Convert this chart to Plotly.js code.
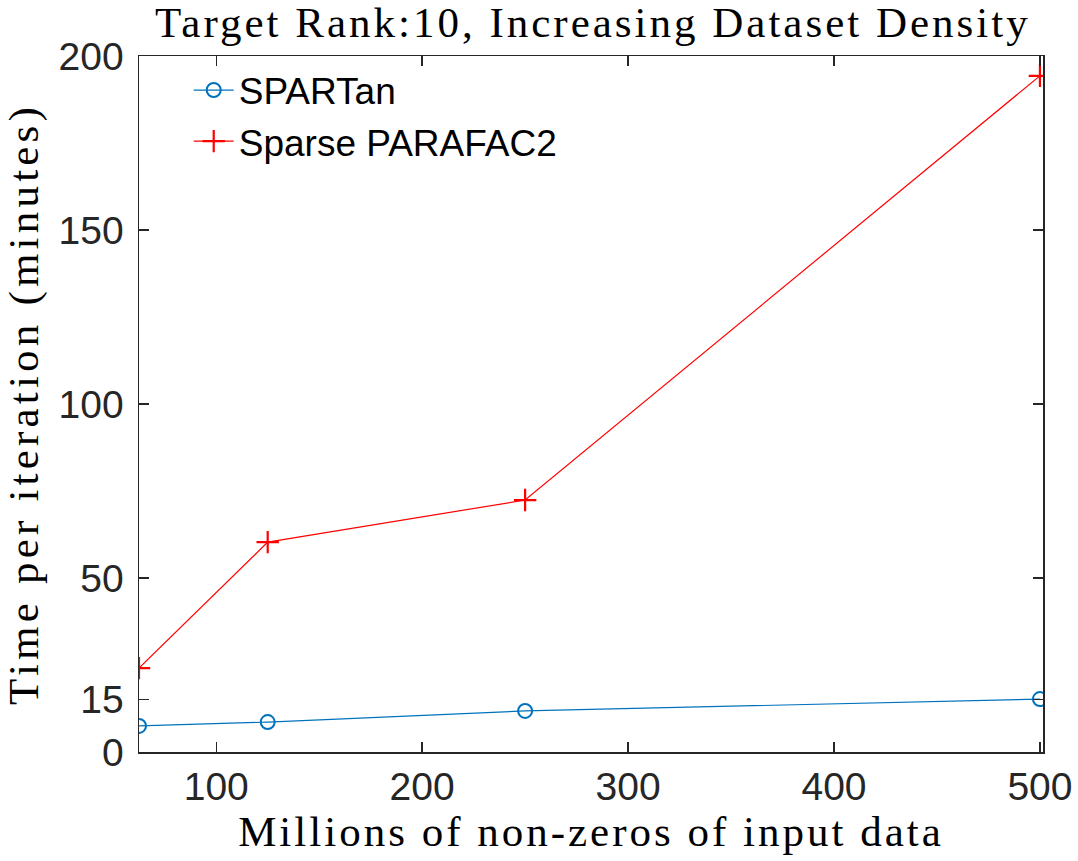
<!DOCTYPE html>
<html>
<head>
<meta charset="utf-8">
<script src="https://cdn.plot.ly/plotly-3.0.1.min.js"></script>
<style>
html,body{margin:0;padding:0;background:#fff;}
#chart{width:1078px;height:861px;}
#chart .gtitle, #chart .xtitle { letter-spacing: 3px; }
#chart .ytitle { letter-spacing: 4.2px; }
</style>
</head>
<body>
<div id="chart"></div>
<script>
const xValues = [62.5, 125, 250, 500];
const spartanTimes = [7.5, 8.6, 11.8, 15.2];
const sparseParafac2Times = [24.1, 60.3, 72.4, 194.3];
const seriesNames = ["SPARTan", "Sparse PARAFAC2"];
const xTickVals = [100, 200, 300, 400, 500];
const yTickVals = [0, 15, 50, 100, 150, 200];

const serif = "'Liberation Serif', 'DejaVu Serif', serif";
const sans = "'Liberation Sans', Arial, sans-serif";

const traces = [
  {
    x: xValues, y: spartanTimes, name: seriesNames[0], type: 'scatter', mode: 'lines+markers',
    line: {color: '#0072BD', width: 1.2},
    marker: {symbol: 'circle-open', size: 14, color: '#0072BD', line: {width: 2, color: '#0072BD'}}
  },
  {
    x: xValues, y: sparseParafac2Times, name: seriesNames[1], type: 'scatter', mode: 'lines+markers',
    line: {color: '#FF0000', width: 1.2},
    marker: {symbol: 'cross-thin-open', size: 16, color: '#FF0000', line: {width: 2.2, color: '#FF0000'}}
  }
];

const axisCommon = {
  showgrid: false, zeroline: false, showline: true, linecolor: '#262626', linewidth: 1.5,
  mirror: 'ticks', ticks: 'inside', ticklen: 10, tickwidth: 1.3, tickcolor: '#262626',
  tickfont: {family: sans, size: 39, color: '#262626'}
};

const layout = {
  width: 1078, height: 861,
  margin: {l: 139, r: 35, t: 56, b: 109},
  paper_bgcolor: '#fff', plot_bgcolor: '#fff',
  showlegend: true,
  title: {
    text: 'Target Rank:10, Increasing Dataset Density',
    font: {family: serif, size: 43, color: '#000'},
    x: 0.55, xanchor: 'center', xref: 'container',
    y: 0.992, yanchor: 'top', yref: 'container'
  },
  xaxis: Object.assign({}, axisCommon, {
    range: [62.5, 501.5], tickvals: xTickVals, ticktext: xTickVals.map(String),
    ticklabelstandoff: 0,
    title: {text: 'Millions of non-zeros of input data', font: {family: serif, size: 43, color: '#000'}, standoff: 8}
  }),
  yaxis: Object.assign({}, axisCommon, {
    range: [0, 200], tickvals: yTickVals, ticktext: yTickVals.map(String),
    ticklabelstandoff: 6,
    title: {text: '\u00a0\u00a0Time per iteration (minutes)', font: {family: serif, size: 43, color: '#000'}, standoff: 8}
  }),
  legend: {
    x: 0.055, y: 0.995, xanchor: 'left', yanchor: 'top',
    bgcolor: 'rgba(255,255,255,0)', borderwidth: 0,
    font: {family: sans, size: 37, color: '#000'},
    tracegroupgap: 0, itemwidth: 40
  }
};

Plotly.newPlot('chart', traces, layout, {displayModeBar: false, staticPlot: true});
</script>
</body>
</html>
